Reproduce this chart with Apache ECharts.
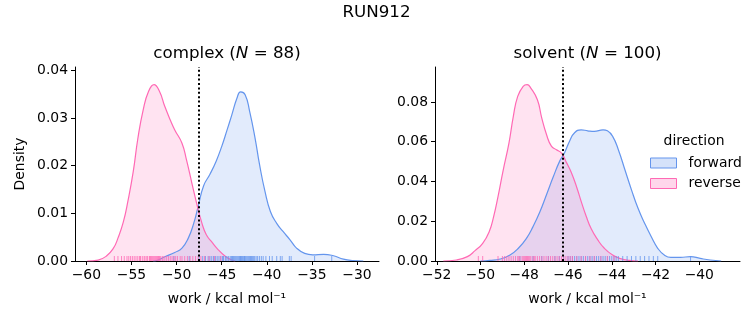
<!DOCTYPE html>
<html>
<head>
<meta charset="utf-8">
<script src="https://cdn.jsdelivr.net/npm/echarts@6/dist/echarts.min.js"></script>
<style>
html,body{margin:0;padding:0;background:#fff;}
#chart{width:753px;height:325px;}
</style>
</head>
<body>
<div id="chart"></div>
<script>
// ---- data ----
const mainTitle = 'RUN912';
const panelTitles = ['complex ({i|N} = 88)', 'solvent ({i|N} = 100)'];
const xAxisTitle = 'work / kcal mol\u207B\u00B9';
const seriesNames = ['forward', 'reverse'];

// KDE curves [work, density]
const complexForward = [[-52.6,0],[-52.2,0.0001],[-51.3,0.0009],[-50.2,0.0018],[-49.4,0.0027],[-48.7,0.0048],[-48.1,0.0079],[-47.6,0.0115],[-47.0,0.0158],[-46.3,0.0182],[-45.6,0.0210],[-45.0,0.0240],[-44.4,0.0275],[-43.9,0.0305],[-43.3,0.0342],[-42.9,0.0355],[-42.4,0.0349],[-41.9,0.0314],[-41.3,0.0258],[-40.8,0.0202],[-40.2,0.0146],[-39.6,0.0104],[-38.9,0.0079],[-38.2,0.0062],[-37.4,0.0044],[-36.7,0.0027],[-35.8,0.0016],[-34.9,0.0013],[-33.7,0.0014],[-32.6,0.0011],[-31.5,0.0004],[-30.4,0.0001],[-29.3,0]];
const complexReverse = [[-59.9,0],[-58.7,0.0002],[-57.8,0.001],[-57.0,0.0027],[-56.5,0.0048],[-55.9,0.0082],[-55.4,0.0125],[-54.8,0.0188],[-54.3,0.0256],[-53.7,0.0317],[-53.1,0.0356],[-52.5,0.0370],[-51.9,0.0356],[-51.3,0.0324],[-50.7,0.0296],[-50.2,0.0275],[-49.4,0.0247],[-48.9,0.0212],[-48.3,0.0163],[-47.8,0.0123],[-47.2,0.0080],[-46.7,0.0055],[-46.1,0.0040],[-45.4,0.0024],[-44.6,0.0010],[-44.0,0.0003],[-43.5,0]];
const solventForward = [[-50.0,0],[-49.57,0.0003],[-49.1,0.001],[-48.65,0.003],[-48.27,0.0064],[-47.9,0.0114],[-47.6,0.0173],[-47.28,0.0249],[-46.98,0.0335],[-46.67,0.0425],[-46.37,0.0505],[-46.18,0.0540],[-45.92,0.0605],[-45.7,0.0645],[-45.4,0.0660],[-45.1,0.0655],[-44.8,0.0652],[-44.4,0.0660],[-44.2,0.0655],[-43.96,0.0627],[-43.7,0.0560],[-43.4,0.0459],[-43.1,0.0358],[-42.8,0.0265],[-42.5,0.0190],[-42.2,0.0123],[-41.9,0.0064],[-41.6,0.0030],[-41.3,0.0018],[-40.86,0.0018],[-40.4,0.0022],[-39.96,0.0013],[-39.5,0.0005],[-39.0,0]];
const solventReverse = [[-51.7,0],[-51.1,0.0005],[-50.6,0.0022],[-50.25,0.0052],[-49.9,0.0089],[-49.6,0.0148],[-49.4,0.0223],[-49.2,0.0324],[-48.96,0.0459],[-48.7,0.0593],[-48.5,0.0728],[-48.3,0.0828],[-48.05,0.0879],[-47.87,0.0887],[-47.7,0.0870],[-47.4,0.0811],[-47.2,0.0719],[-46.98,0.0635],[-46.76,0.0578],[-46.53,0.0560],[-46.3,0.0543],[-46.07,0.0495],[-45.85,0.0445],[-45.6,0.0370],[-45.4,0.0300],[-45.17,0.0225],[-44.94,0.0162],[-44.64,0.0106],[-44.34,0.0064],[-43.96,0.0030],[-43.6,0.0012],[-43.2,0.0003],[-42.8,0]];

// rug (individual work values)
const complexForwardRug = [-50.3,-48.6,-47.5,-47.1,-46.8,-46.5,-46.3,-46.1,-45.9,-45.7,-45.5,-45.3,-45.1,-44.9,-44.8,-44.6,-44.5,-44.3,-44.2,-44.0,-43.9,-43.8,-43.7,-43.6,-43.5,-43.4,-43.3,-43.2,-43.1,-43.0,-42.95,-42.9,-42.8,-42.7,-42.6,-42.5,-42.45,-42.4,-42.3,-42.2,-42.1,-42.0,-41.9,-41.8,-41.7,-41.6,-41.5,-41.4,-41.3,-41.1,-41.0,-40.8,-40.6,-40.4,-40.1,-39.7,-39.4,-38.9,-38.5,-38.3,-37.5,-37.3,-34.7,-32.8];
const complexReverseRug = [-56.9,-56.5,-56.1,-55.8,-55.5,-55.3,-55.1,-54.9,-54.7,-54.5,-54.3,-54.1,-54.0,-53.8,-53.6,-53.5,-53.3,-53.2,-53.0,-52.9,-52.8,-52.7,-52.6,-52.5,-52.4,-52.3,-52.2,-52.1,-52.0,-51.9,-51.8,-51.6,-51.5,-51.3,-51.1,-50.9,-50.7,-50.5,-50.3,-50.1,-49.9,-49.6,-49.4,-49.1,-48.8,-48.5,-48.2,-47.9,-47.6,-47.3,-46.9,-46.4,-45.8,-45.1];
const solventForwardRug = [-48.2,-47.6,-47.2,-46.9,-46.6,-46.4,-46.2,-46.0,-45.9,-45.8,-45.7,-45.6,-45.5,-45.4,-45.3,-45.2,-45.1,-45.0,-44.9,-44.8,-44.7,-44.6,-44.5,-44.4,-44.3,-44.2,-44.1,-44.0,-43.9,-43.8,-43.7,-43.5,-43.3,-43.1,-42.9,-42.7,-42.5,-42.3,-42.1,-41.9,-40.4];
const solventReverseRug = [-50.1,-49.9,-49.2,-49.0,-48.9,-48.8,-48.7,-48.6,-48.5,-48.4,-48.3,-48.25,-48.2,-48.1,-48.05,-48.0,-47.95,-47.9,-47.85,-47.8,-47.75,-47.7,-47.6,-47.55,-47.5,-47.4,-47.3,-47.2,-47.1,-47.0,-46.9,-46.8,-46.7,-46.6,-46.5,-46.4,-46.3,-46.2,-46.1,-46.0,-45.9,-45.8,-45.6,-45.4,-45.2,-45.0,-44.8,-44.5,-44.2,-43.9];

// dotted vertical reference lines
const vlines = [-47.55, -46.24];

// ticks
const complexXTicks = [-60,-55,-50,-45,-40,-35,-30];
const solventXTicks = [-52,-50,-48,-46,-44,-42,-40];
const complexYTicks = [0,0.01,0.02,0.03,0.04];
const solventYTicks = [0,0.02,0.04,0.06,0.08];
const xRanges = [[-61.26,-27.56],[-52.08,-38.14]];
const yMax = [0.0407, 0.0976];

// ---- chart ----
const FONT = 'DejaVu Sans';
const BLUE = '#6495ED', PINK = '#FF69B4';
const BLUE_FILL = 'rgba(100,149,237,0.27)', PINK_FILL = 'rgba(255,105,180,0.27)';

const chart = echarts.init(document.getElementById('chart'), null, {renderer: 'canvas'});

function xAxisCfg(idx, ticks) {
  return {
    type: 'value', gridIndex: idx, min: xRanges[idx][0], max: xRanges[idx][1],
    name: xAxisTitle, nameLocation: 'middle', nameGap: 31,
    nameTextStyle: {fontFamily: FONT, fontSize: 13.9, color: '#000'},
    axisLine: {show: true, onZero: false, lineStyle: {color: '#000', width: 1}},
    axisTick: {show: true, length: 4, customValues: ticks, lineStyle: {color: '#000', width: 1}},
    axisLabel: {show: true, customValues: ticks, margin: 7, fontFamily: FONT, fontSize: 13.9, color: '#000',
      formatter: v => (v < 0 ? '\u2212' + Math.abs(v) : String(v))},
    splitLine: {show: false}
  };
}
function yAxisCfg(idx, ticks, name) {
  return {
    type: 'value', gridIndex: idx, min: 0, max: yMax[idx],
    name: name, nameLocation: 'middle', nameGap: 48, nameRotate: 90,
    nameTextStyle: {fontFamily: FONT, fontSize: 13.9, color: '#000'},
    axisLine: {show: true, lineStyle: {color: '#000', width: 1}},
    axisTick: {show: true, length: 4, customValues: ticks, lineStyle: {color: '#000', width: 1}},
    axisLabel: {show: true, customValues: ticks, margin: 7, fontFamily: FONT, fontSize: 13.9, color: '#000',
      formatter: v => v.toFixed(2)},
    splitLine: {show: false}
  };
}
function kde(name, data, idx, color, fill, z) {
  return {
    type: 'line', name: name, xAxisIndex: idx, yAxisIndex: idx, data: data,
    smooth: 0.5, showSymbol: false, symbol: 'none', silent: true, z: z,
    lineStyle: {color: color, width: 1.2},
    itemStyle: {color: fill, borderColor: color},
    areaStyle: {color: fill, origin: 'start'}
  };
}
function rug(name, vals, idx, color) {
  return {
    type: 'scatter', name: name, xAxisIndex: idx, yAxisIndex: idx, silent: true, z: 4,
    data: vals.map(v => [v, 0]),
    symbol: 'rect', symbolSize: [1, 5], symbolOffset: [0, -2.5],
    itemStyle: {color: color, opacity: 0.8}
  };
}
function vline(idx) {
  return {
    type: 'line', xAxisIndex: idx, yAxisIndex: idx, data: [], silent: true,
    markLine: {
      silent: true, symbol: ['none', 'none'], label: {show: false}, animation: false,
      lineStyle: {color: '#000', type: [2, 2.4], width: 2},
      data: [{xAxis: vlines[idx]}]
    }
  };
}

chart.setOption({
  animation: false,
  backgroundColor: '#fff',
  grid: [
    {left: 75, top: 67, width: 304, height: 194},
    {left: 435, top: 67, width: 305, height: 194}
  ],
  xAxis: [xAxisCfg(0, complexXTicks), xAxisCfg(1, solventXTicks)],
  yAxis: [yAxisCfg(0, complexYTicks, 'Density'), yAxisCfg(1, solventYTicks, '')],
  legend: {
    orient: 'vertical', left: 645, top: 151, itemWidth: 26, itemHeight: 10, itemGap: 6.5,
    icon: 'rect', selectedMode: false,
    textStyle: {fontFamily: FONT, fontSize: 13.9, color: '#000', padding: [0, 0, 0, 7]},
    data: [
      {name: seriesNames[0], itemStyle: {color: BLUE_FILL, borderColor: BLUE, borderWidth: 1}},
      {name: seriesNames[1], itemStyle: {color: PINK_FILL, borderColor: PINK, borderWidth: 1}}
    ]
  },
  graphic: [
    {type: 'text', x: 376.5, y: 13, style: {text: mainTitle, font: '16.7px "DejaVu Sans"', fill: '#000', textAlign: 'center', textVerticalAlign: 'middle'}},
    {type: 'text', x: 227, y: 54, style: {text: panelTitles[0], font: '16.7px "DejaVu Sans"', fill: '#000', textAlign: 'center', textVerticalAlign: 'middle',
      rich: {i: {fontStyle: 'italic', fontFamily: FONT, fontSize: 16.7, fill: '#000'}}}},
    {type: 'text', x: 587.5, y: 54, style: {text: panelTitles[1], font: '16.7px "DejaVu Sans"', fill: '#000', textAlign: 'center', textVerticalAlign: 'middle',
      rich: {i: {fontStyle: 'italic', fontFamily: FONT, fontSize: 16.7, fill: '#000'}}}},
    {type: 'text', x: 694, y: 141, style: {text: 'direction', font: '13.9px "DejaVu Sans"', fill: '#000', textAlign: 'center', textVerticalAlign: 'middle'}}
  ],
  series: [
    kde(seriesNames[0], complexForward, 0, BLUE, BLUE_FILL, 2),
    kde(seriesNames[1], complexReverse, 0, PINK, PINK_FILL, 2),
    kde(seriesNames[0], solventForward, 1, BLUE, BLUE_FILL, 2),
    kde(seriesNames[1], solventReverse, 1, PINK, PINK_FILL, 2),
    rug(seriesNames[0], complexForwardRug, 0, BLUE),
    rug(seriesNames[1], complexReverseRug, 0, PINK),
    rug(seriesNames[0], solventForwardRug, 1, BLUE),
    rug(seriesNames[1], solventReverseRug, 1, PINK),
    vline(0), vline(1)
  ]
});
</script>
</body>
</html>
